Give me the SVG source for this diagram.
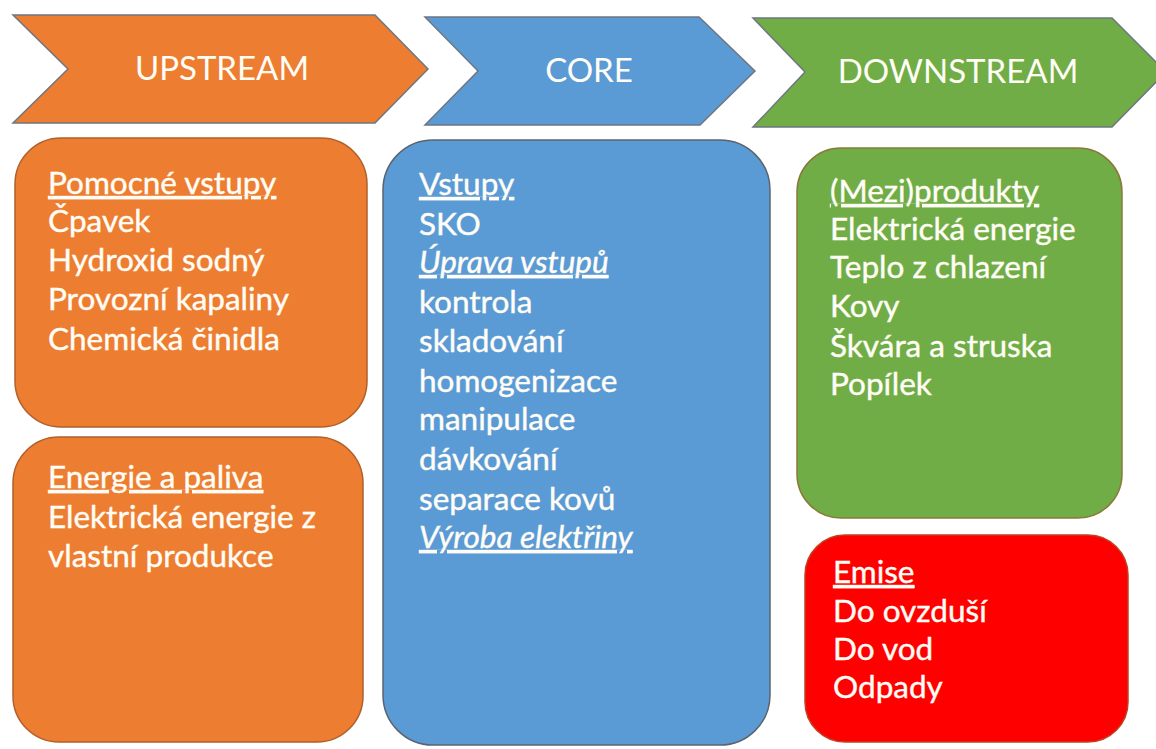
<svg xmlns="http://www.w3.org/2000/svg" width="1156" height="749" viewBox="0 0 1156 749">
<style>
.hdr{font-family:Lato,"Open Sans",sans-serif;font-size:33px;fill:#FFFDF5;text-anchor:middle}
.body{font-family:Lato,"Open Sans",sans-serif;font-size:31.5px;fill:#FFFDF5;stroke:#FFFDF5;stroke-width:0.4}
.u{text-decoration:underline}
.i{font-style:italic}
.arrow{stroke:#6F7680;stroke-width:1.5}
.box{stroke-width:1.5}
.or{fill:#ED7D31}
.bl{fill:#5B9BD5}
.gr{fill:#70AD47}
.rd{fill:#FF0000}
</style>
<rect width="1156" height="749" fill="#FFFFFF"/>
<g id="upstream-arrow">
<polygon class="arrow or" points="13,15 375,15 428,69 375,123 13,123 68,69"/>
<text class="hdr" x="222" y="80">UPSTREAM</text>
</g>
<g id="core-arrow">
<polygon class="arrow bl" points="425,17 699,17 755,71 700,125 425,125 478,71"/>
<text class="hdr" x="589" y="82">CORE</text>
</g>
<g id="downstream-arrow">
<polygon class="arrow gr" points="753,18 1112,18 1166,72 1112,127 753,127 805,72"/>
<text class="hdr" x="958" y="83">DOWNSTREAM</text>
</g>
<g id="pomocne-vstupy">
<rect class="box or" x="15" y="138" width="352" height="289" rx="46" stroke="#B0602A"/>
<text class="body" x="48" y="194"><tspan class="u">Pomocné vstupy</tspan><tspan x="48" y="232">Čpavek</tspan><tspan x="48" y="271">Hydroxid sodný</tspan><tspan x="48" y="310">Provozní kapaliny</tspan><tspan x="48" y="350">Chemická činidla</tspan></text>
</g>
<g id="energie-a-paliva">
<rect class="box or" x="13" y="437" width="350" height="305" rx="46" stroke="#B0602A"/>
<text class="body" x="48" y="488"><tspan class="u">Energie a paliva</tspan><tspan x="48" y="528">Elektrická energie z</tspan><tspan x="48" y="567">vlastní produkce</tspan></text>
</g>
<g id="core-box">
<rect class="box bl" x="383" y="140" width="387" height="605" rx="50" stroke="#5A6470"/>
<text class="body" x="419" y="195"><tspan class="u">Vstupy</tspan><tspan x="419" y="235">SKO</tspan><tspan x="419" y="273" class="u i">Úprava vstupů</tspan><tspan x="419" y="313">kontrola</tspan><tspan x="419" y="352">skladování</tspan><tspan x="419" y="392">homogenizace</tspan><tspan x="419" y="430">manipulace</tspan><tspan x="419" y="470">dávkování</tspan><tspan x="419" y="510">separace kovů</tspan><tspan x="419" y="548" class="u i">Výroba elektřiny</tspan></text>
</g>
<g id="mezi-produkty">
<rect class="box gr" x="797" y="148" width="325" height="370" rx="44" stroke="#8A7A3A"/>
<text class="body" x="830" y="202"><tspan class="u">(Mezi)produkty</tspan><tspan x="830" y="240">Elektrická energie</tspan><tspan x="830" y="278">Teplo z chlazení</tspan><tspan x="830" y="317">Kovy</tspan><tspan x="830" y="357">Škvára a struska</tspan><tspan x="830" y="395">Popílek</tspan></text>
</g>
<g id="emise">
<rect class="box rd" x="805" y="535" width="323" height="207" rx="40" stroke="#C04020"/>
<text class="body" x="833" y="583"><tspan class="u">Emise</tspan><tspan x="833" y="622">Do ovzduší</tspan><tspan x="833" y="660">Do vod</tspan><tspan x="833" y="698">Odpady</tspan></text>
</g>
<g id="connectors"></g>
</svg>
